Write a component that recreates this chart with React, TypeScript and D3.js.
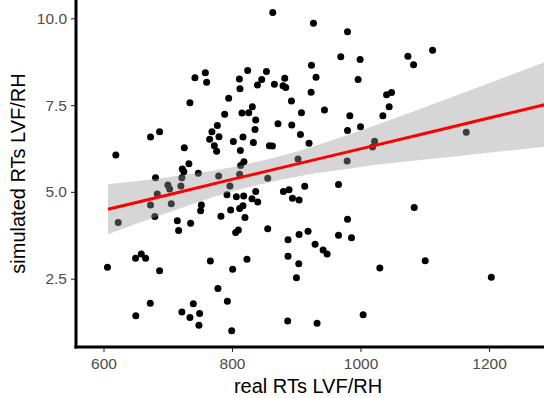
import { useEffect, useRef } from 'react';
import * as d3 from 'd3';

// ─── Data ───────────────────────────────────────────────────

const realRT = [
  758.5, 742.3, 760.5, 794.8, 734.5, 788.6, 777.2, 687.3, 673.2, 768.8,
  765.2, 779.7, 802.1, 772.5, 776.1, 725.8, 619.2, 732.9, 722.6, 725.1,
  747.6, 779.2, 681.0, 722.0, 863.4, 926.8, 979.8, 969.3, 999.4, 923.7,
  824.4, 853.6, 811.5, 846.2, 839.5, 882.1, 866.0, 879.4, 883.6, 930.8,
  996.3, 812.4, 923.1, 1040.6, 892.5, 1044.6, 943.9, 831.7, 815.5, 826.0,
  908.1, 836.9, 983.4, 1034.8, 871.6, 893.0, 835.8, 1000.0, 979.8, 906.5,
  817.1, 833.3, 919.9, 858.2, 862.9, 1021.9, 1018.7, 813.0, 902.8, 979.2,
  818.6, 813.5, 811.9, 855.6, 1112.2, 1073.8, 1082.6, 1048.3, 1164.6, 700.2,
  702.9, 720.5, 683.7, 673.2, 705.5, 752.3, 751.2, 792.2, 796.8, 622.9,
  679.9, 714.9, 735.6, 716.9, 782.8, 797.9, 658.8, 649.9, 665.5, 606.2,
  687.3, 766.3, 801.0, 778.1, 792.8, 672.8, 739.8, 722.0, 749.6, 650.3,
  734.5, 748.5, 799.5, 913.2, 965.8, 880.0, 888.8, 894.1, 904.4, 836.9,
  806.8, 818.2, 831.1, 840.0, 811.9, 817.1, 820.2, 979.8, 855.6, 805.7,
  809.9, 887.2, 904.4, 918.4, 965.8, 986.0, 929.3, 941.8, 948.0, 887.2,
  903.9, 823.3, 900.3, 1030.1, 886.7, 932.4, 1004.1, 1083.6, 1100.7, 1203.6,
];

const simRT = [
  8.43, 8.29, 8.16, 7.70, 7.57, 7.24, 6.91, 6.73, 6.58, 6.73,
  6.52, 6.59, 6.45, 6.33, 6.17, 6.27, 6.06, 5.81, 5.66, 5.58,
  5.54, 5.46, 5.41, 5.41, 10.17, 9.86, 9.61, 8.89, 8.81, 8.65,
  8.50, 8.47, 8.25, 8.24, 8.08, 8.27, 8.10, 8.06, 8.01, 8.30,
  8.24, 7.97, 7.87, 7.80, 7.62, 7.45, 7.36, 7.45, 7.27, 7.28,
  7.28, 7.07, 7.19, 7.19, 6.96, 6.93, 6.80, 6.88, 6.77, 6.65,
  6.58, 6.42, 6.40, 6.33, 6.32, 6.46, 6.29, 6.19, 5.95, 5.89,
  5.87, 5.76, 5.51, 5.39, 9.08, 8.91, 8.66, 7.86, 6.72, 5.20,
  5.08, 5.17, 4.94, 4.62, 4.66, 4.62, 4.46, 4.92, 5.17, 4.12,
  4.29, 4.17, 4.10, 3.89, 4.30, 4.48, 3.21, 3.09, 3.09, 2.83,
  2.73, 3.01, 2.77, 2.22, 1.85, 1.79, 1.78, 1.54, 1.50, 1.43,
  1.38, 1.16, 1.00, 5.16, 5.21, 5.01, 5.06, 4.82, 4.77, 5.01,
  4.86, 4.88, 4.80, 4.71, 4.52, 4.60, 4.26, 4.21, 3.94, 3.83,
  3.90, 3.62, 3.77, 3.87, 3.75, 3.68, 3.49, 3.33, 3.21, 3.15,
  2.93, 3.06, 2.53, 2.81, 1.28, 1.22, 1.46, 4.55, 3.02, 2.54,
];

// linear fit with 95% band, read at a few x positions
const fitX = [607, 700, 800, 900, 1000, 1100, 1200, 1300];
const fitY = [4.50, 4.91, 5.36, 5.80, 6.24, 6.68, 7.13, 7.57];
const fitLo = [3.78, 4.40, 5.01, 5.44, 5.72, 5.93, 6.13, 6.32];
const fitHi = [5.22, 5.42, 5.71, 6.16, 6.77, 7.44, 8.13, 8.83];

const xTicks = [600, 800, 1000, 1200];
const yTicks = [2.5, 5.0, 7.5, 10.0];
const yTickLabels = ['2.5', '5.0', '7.5', '10.0'];

const X_LIM: [number, number] = [557.2, 1285.6];
const Y_LIM: [number, number] = [0.533, 10.527];

const W = 544;
const H = 398;
const FONT = '"Liberation Sans", Arial, Helvetica, sans-serif';

export default function App() {
  const svgRef = useRef<SVGSVGElement>(null);

  useEffect(() => {
    if (!svgRef.current) return;
    const svg = d3.select(svgRef.current);
    svg.selectAll('*').remove();

    const margin = { top: 0, right: 0, bottom: 51, left: 76 };
    const pw = W - margin.left - margin.right;
    const ph = H - margin.top - margin.bottom;

    const x = d3.scaleLinear().domain(X_LIM).range([0, pw]);
    const y = d3.scaleLinear().domain(Y_LIM).range([ph, 0]);

    svg.append('defs').append('clipPath').attr('id', 'panel')
      .append('rect').attr('width', pw).attr('height', ph);

    const g = svg.append('g')
      .attr('transform', `translate(${margin.left},${margin.top})`);

    const panel = g.append('g').attr('clip-path', 'url(#panel)');

    // Points
    panel.append('g').selectAll('circle')
      .data(d3.range(realRT.length))
      .join('circle')
      .attr('cx', (i) => x(realRT[i]))
      .attr('cy', (i) => y(simRT[i]))
      .attr('r', 3.5)
      .attr('fill', '#000');

    // Confidence band
    const band = d3.area<number>()
      .x((i) => x(fitX[i]))
      .y0((i) => y(fitLo[i]))
      .y1((i) => y(fitHi[i]))
      .curve(d3.curveMonotoneX);
    panel.append('path')
      .datum(d3.range(fitX.length))
      .attr('d', band)
      .attr('fill', '#999999')
      .attr('fill-opacity', 0.4);

    // Fit line
    const line = d3.line<number>()
      .x((i) => x(fitX[i]))
      .y((i) => y(fitY[i]));
    panel.append('path')
      .datum(d3.range(fitX.length))
      .attr('d', line)
      .attr('fill', 'none')
      .attr('stroke', '#ff0000')
      .attr('stroke-width', 3);

    // Axes
    const xAxis = g.append('g').attr('transform', `translate(0,${ph})`)
      .call(d3.axisBottom(x).tickValues(xTicks).tickSize(5).tickPadding(5)
        .tickFormat((d) => String(d)));
    xAxis.select('.domain').remove();

    const yAxis = g.append('g')
      .call(d3.axisLeft(y).tickValues(yTicks).tickSize(5).tickPadding(4)
        .tickFormat((_, i) => yTickLabels[i]));
    yAxis.select('.domain').remove();

    [xAxis, yAxis].forEach((ax) => {
      ax.selectAll('line').attr('stroke', '#333333').attr('stroke-width', 1.1);
      ax.selectAll('text')
        .attr('fill', '#4d4d4d')
        .attr('font-size', '15.5px')
        .attr('font-family', FONT);
    });
    xAxis.selectAll('text').attr('dy', '0.75em');

    // Axis lines
    g.append('line')
      .attr('x1', 0).attr('x2', 0).attr('y1', 0).attr('y2', ph + 1.5)
      .attr('stroke', '#000').attr('stroke-width', 3);
    g.append('line')
      .attr('x1', -1.5).attr('x2', pw).attr('y1', ph).attr('y2', ph)
      .attr('stroke', '#000').attr('stroke-width', 3);

    // Titles
    svg.append('text')
      .attr('x', 308).attr('y', 393)
      .attr('text-anchor', 'middle')
      .attr('font-size', '20px')
      .attr('font-family', FONT)
      .attr('fill', '#000')
      .text('real RTs LVF/RH');

    svg.append('text')
      .attr('transform', `translate(25,${margin.top + ph / 2}) rotate(-90)`)
      .attr('text-anchor', 'middle')
      .attr('font-size', '20px')
      .attr('font-family', FONT)
      .attr('fill', '#000')
      .text('simulated RTs LVF/RH');
  }, []);

  return (
    <div style={{ position: 'absolute', left: 0, top: 0 }}>
      <svg ref={svgRef} width={W} height={H} style={{ display: 'block', background: '#fff' }} />
    </div>
  );
}
